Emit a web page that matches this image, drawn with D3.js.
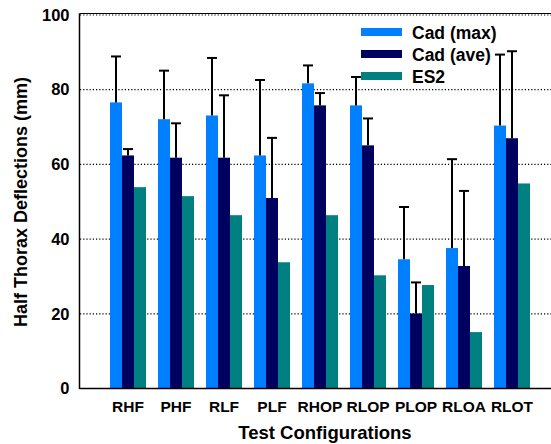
<!DOCTYPE html>
<html><head><meta charset="utf-8">
<script src="https://cdn.jsdelivr.net/npm/d3@7"></script>
<style>body{margin:0;background:#fff}svg{display:block;font-family:"Liberation Sans",Arial,sans-serif;font-weight:bold}</style>
</head><body><svg id="c" width="551" height="444"></svg>
<script>
const categories = ["RHF","PHF","RLF","PLF","RHOP","RLOP","PLOP","RLOA","RLOT"];
const seriesNames = ["Cad (max)","Cad (ave)","ES2"];
const cadMax    = [76.6, 72.1, 73.1, 62.4, 81.7, 75.8, 34.6, 37.6, 70.4];
const cadMaxErr = [88.9, 85.1, 88.5, 82.6, 86.5, 83.4, 48.6, 61.4, 89.4];
const cadAve    = [62.4, 61.8, 61.8, 51.0, 75.8, 65.1, 20.1, 32.8, 67.0];
const cadAveErr = [64.1, 71.0, 78.5, 67.1, 79.1, 72.3, 28.4, 52.9, 90.3];
const es2       = [53.9, 51.5, 46.4, 33.8, 46.4, 30.3, 27.7, 15.1, 54.9];
const yTicks = [0,20,40,60,80,100];
const colors = ["#0080ff","#000060","#008080"];

const svg = d3.select("#c");
const x0 = d3.scaleBand().domain(categories).range([80,560]).paddingInner(0.25).paddingOuter(0.625);
const x1 = d3.scaleBand().domain(seriesNames).range([0,x0.bandwidth()]);
const y = d3.scaleLinear().domain([0,100]).range([388.5,15]);

// gridlines
svg.append("g").selectAll("line").data(yTicks.filter(d=>d>0)).join("line")
  .attr("x1",80).attr("x2",551).attr("y1",d=>y(d)).attr("y2",d=>y(d))
  .attr("stroke","#000").attr("stroke-width",1.2).attr("stroke-dasharray","1.2,2");

// top border
svg.append("line").attr("x1",79.5).attr("x2",551).attr("y1",13.5).attr("y2",13.5).attr("stroke","#000").attr("stroke-width",1.2);

const rows = categories.map((c,i)=>({c, vals:[
  {s:seriesNames[0], v:cadMax[i], e:cadMaxErr[i]},
  {s:seriesNames[1], v:cadAve[i], e:cadAveErr[i]},
  {s:seriesNames[2], v:es2[i], e:null}]}));

const g = svg.append("g").selectAll("g").data(rows).join("g").attr("transform",d=>`translate(${x0(d.c)},0)`);
g.selectAll("rect").data(d=>d.vals).join("rect")
  .attr("x",d=>x1(d.s)).attr("width",x1.bandwidth()).attr("y",d=>y(d.v)).attr("height",d=>y(0)-y(d.v))
  .attr("fill",(d,i)=>colors[i]);
const eb = g.selectAll("g.eb").data(d=>d.vals.filter(v=>v.e!=null)).join("g").attr("class","eb");
eb.append("line").attr("x1",d=>x1(d.s)+x1.bandwidth()/2).attr("x2",d=>x1(d.s)+x1.bandwidth()/2)
  .attr("y1",d=>y(d.v)).attr("y2",d=>y(d.e)).attr("stroke","#000").attr("stroke-width",2);
eb.append("line").attr("x1",d=>x1(d.s)+x1.bandwidth()/2-5).attr("x2",d=>x1(d.s)+x1.bandwidth()/2+5)
  .attr("y1",d=>y(d.e)).attr("y2",d=>y(d.e)).attr("stroke","#000").attr("stroke-width",2);

// axes
const ya = svg.append("g").attr("transform","translate(79.5,0)")
  .call(d3.axisLeft(y).tickValues(yTicks).tickSize(0).tickPadding(10));
ya.select(".domain").attr("stroke","#000").attr("stroke-width",1.5).attr("d","M0,13.5V389");
ya.selectAll("text").attr("font-size",16.5).attr("font-weight","bold").attr("font-family","Liberation Sans, Arial, sans-serif").attr("fill","#000");

const xa = svg.append("g").attr("transform","translate(0,388.5)")
  .call(d3.axisBottom(x0).tickSize(0).tickPadding(12));
xa.select(".domain").attr("stroke","#000").attr("stroke-width",1.5).attr("d","M79.5,0H551");
xa.selectAll("text").attr("font-size",15.5).attr("font-weight","bold").attr("font-family","Liberation Sans, Arial, sans-serif").attr("fill","#000");

// titles
svg.append("text").attr("x",325).attr("y",439).attr("text-anchor","middle").attr("font-size",18.5).text("Test Configurations");
svg.append("text").attr("transform","translate(27,202) rotate(-90)").attr("text-anchor","middle").attr("font-size",18).text("Half Thorax Deflections (mm)");

// legend
const lg = svg.append("g").selectAll("g").data(seriesNames).join("g").attr("transform",(d,i)=>`translate(361,${28+i*22})`);
lg.append("rect").attr("width",41).attr("height",8).attr("fill",(d,i)=>colors[i]);
lg.append("text").attr("x",51).attr("y",11).attr("font-size",17.5).text(d=>d);
</script></body></html>
